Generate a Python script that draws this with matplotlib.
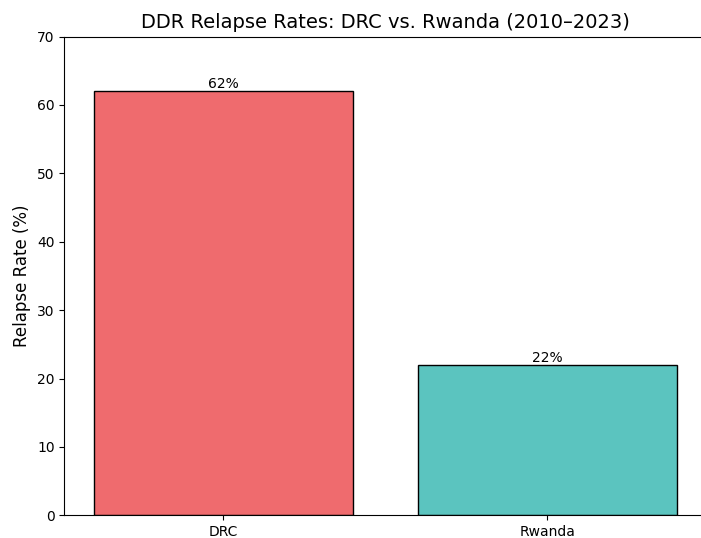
import matplotlib
matplotlib.use("Agg")
import matplotlib.pyplot as plt

countries = ["DRC", "Rwanda"]
relapse_rates = [62, 22]
bar_colors = ["#EF6B6E", "#5BC4BF"]

fig = plt.figure(figsize=(7.01, 5.38), dpi=100)
ax = fig.add_axes([64.4 / 701, 22.7 / 538, (705.9 - 64.4) / 701, (515.3 - 36.5) / 538])

bars = ax.bar(countries, relapse_rates, color=bar_colors, edgecolor="black", linewidth=1)
for b, v in zip(bars, relapse_rates):
    ax.text(b.get_x() + b.get_width() / 2, v, f"{v}%", ha="center", va="bottom", fontsize=10)

ax.set_ylim(0, 70)
ax.set_xlim(-0.49, 1.49)
ax.set_ylabel("Relapse Rate (%)", fontsize=12)
ax.set_title("DDR Relapse Rates: DRC vs. Rwanda (2010–2023)", fontsize=14)

fig.savefig("out.png", dpi=100)
